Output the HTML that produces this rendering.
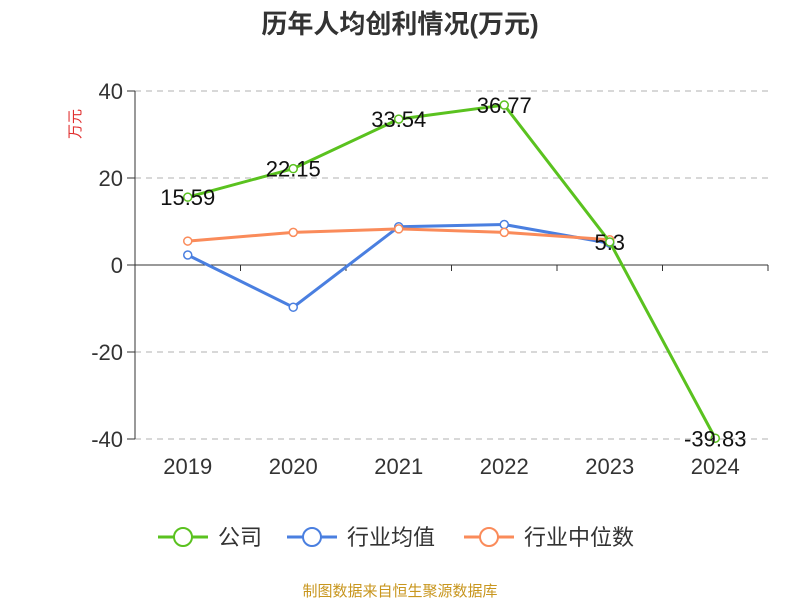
<!DOCTYPE html>
<html><head><meta charset="utf-8"><style>
body{margin:0;background:#fff;font-family:"Liberation Sans","Noto Sans CJK SC",sans-serif}
</style></head><body>
<svg width="800" height="600" xmlns="http://www.w3.org/2000/svg" id="chart" font-family="Liberation Sans, Noto Sans CJK SC, sans-serif">
<text x="400" y="33" text-anchor="middle" font-size="26" font-weight="bold" fill="#333">历年人均创利情况(万元)</text>
<text x="80" y="124" text-anchor="middle" font-size="15" fill="#e03030" transform="rotate(-90 80 124)">万元</text>
<g id="grid"></g><g id="axes"></g><g id="series"></g>
<g>
<g><line x1="158" y1="537" x2="208" y2="537" stroke="#5ac21f" stroke-width="3"/><circle cx="183" cy="537" r="9" fill="#fff" stroke="#5ac21f" stroke-width="2"/><text x="218" y="545" font-size="22" fill="#333">公司</text></g>
<g><line x1="287" y1="537" x2="337" y2="537" stroke="#4a7fe0" stroke-width="3"/><circle cx="312" cy="537" r="9" fill="#fff" stroke="#4a7fe0" stroke-width="2"/><text x="347" y="545" font-size="22" fill="#333">行业均值</text></g>
<g><line x1="464" y1="537" x2="514" y2="537" stroke="#fa8b5a" stroke-width="3"/><circle cx="489" cy="537" r="9" fill="#fff" stroke="#fa8b5a" stroke-width="2"/><text x="524" y="545" font-size="22" fill="#333">行业中位数</text></g>
</g>
<text x="400" y="596" text-anchor="middle" font-size="15" fill="#c8961e">制图数据来自恒生聚源数据库</text>
</svg>
<script>
const categories=["2019","2020","2021","2022","2023","2024"];
const company=[15.59,22.15,33.54,36.77,5.3,-39.83];
const industryAvg=[2.3,-9.7,8.8,9.3,5.0];
const industryMedian=[5.5,7.5,8.3,7.5,5.8];
const yTicks=[40,20,0,-20,-40];
const companyLabels=["15.59","22.15","33.54","36.77","5.3","-39.83"];
const NS="http://www.w3.org/2000/svg";
const L=135,R=768,band=(R-L)/categories.length;
const x=i=>L+band*(i+0.5);
const y=v=>265-v*4.35;
function mk(t,a,p){const e=document.createElementNS(NS,t);for(const k in a)e.setAttribute(k,a[k]);p.appendChild(e);return e;}
const grid=document.getElementById('grid'),axes=document.getElementById('axes'),ser=document.getElementById('series');
yTicks.forEach(v=>{
 if(v!==0){const g=mk('line',{x1:L,x2:R,y1:y(v),y2:y(v),stroke:'#ccc','stroke-dasharray':'6,5','stroke-width':1.5},grid);
 
 }
 mk('line',{x1:L-8,x2:L,y1:y(v),y2:y(v),stroke:'#333'},axes);
 const t=mk('text',{x:L-12,y:y(v)+8,'text-anchor':'end','font-size':22,fill:'#333'},axes);t.textContent=v;
 
 
});
mk('line',{x1:L,x2:L,y1:y(40),y2:y(-40),stroke:'#333'},axes);
mk('line',{x1:L,x2:R,y1:y(0),y2:y(0),stroke:'#333'},axes);
categories.forEach((c,i)=>{
 mk('line',{x1:L+band*i,x2:L+band*i,y1:y(0),y2:y(0)+6,stroke:'#333'},axes);
 const t=mk('text',{x:x(i),y:474,'text-anchor':'middle','font-size':22,fill:'#333'},axes);t.textContent=c;
 
 
});
mk('line',{x1:R,x2:R,y1:y(0),y2:y(0)+6,stroke:'#333'},axes);
function series(d,col,name){
 const p=mk('polyline',{points:d.map((v,i)=>x(i)+','+y(v)).join(' '),fill:'none',stroke:col,'stroke-width':3},ser);
 
 
 d.forEach((v,i)=>{const c=mk('circle',{cx:x(i),cy:y(v),r:4,fill:'#fff',stroke:col,'stroke-width':1.5},ser);
 
 });
}
series(industryAvg,'#4a7fe0','industry-avg');
series(industryMedian,'#fa8b5a','industry-median');
series(company,'#5ac21f','company');
company.forEach((v,i)=>{const t=mk('text',{x:x(i),y:y(v)+8,'text-anchor':'middle','font-size':22,fill:'#111'},ser);t.textContent=companyLabels[i];
 
 });
</script>
</body></html>
